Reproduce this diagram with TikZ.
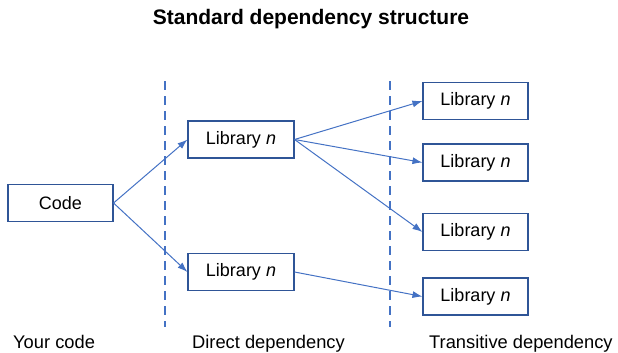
\documentclass[tikz,border=0pt]{standalone}
\usepackage{fontspec}
\setmainfont{Liberation Sans}
\usetikzlibrary{arrows.meta,positioning}
\definecolor{deplink}{RGB}{68,114,196}
\definecolor{depbox}{RGB}{47,85,151}

\begin{document}
\begin{tikzpicture}[x=1pt, y=-1pt,
  libbox/.style={draw=depbox, line width=1.1pt, rectangle, minimum width=106pt, minimum height=37pt,
    inner sep=0pt, font=\fontsize{18}{21}\selectfont},
  dep/.style={-{Latex[length=10pt,width=7pt]}, deplink, line width=1pt},
  tier/.style={deplink, line width=1.8pt, dash pattern=on 9pt off 6pt},
  tiercap/.style={font=\fontsize{18.3}{21}\selectfont, anchor=base west, inner sep=0pt}]
\useasboundingbox (0,0) rectangle (618,353);
%% ---- title ----
\node[font=\fontsize{21}{25}\selectfont\bfseries, anchor=base] (title) at (311,25) {Standard dependency structure};
%% ---- tier separators ----
\draw[tier] (165,81) -- (165,327);
\draw[tier] (390,81) -- (390,327);
%% ---- boxes ----
\node[libbox, minimum width=105pt] (code) at (60.5,203) {Code};
\node[libbox] (dirA) at (241,139.5) {Library \textit{n}};
\node[libbox] (dirB) at (241,272) {Library \textit{n}};
\node[libbox, minimum width=105pt] (trA) at (475.5,101) {Library \textit{n}};
\node[libbox, minimum width=105pt] (trB) at (475.5,162.5) {Library \textit{n}};
\node[libbox, minimum width=105pt] (trC) at (475.5,232) {Library \textit{n}};
\node[libbox, minimum width=105pt] (trD) at (475.5,296.5) {Library \textit{n}};
%% ---- links ----
\draw[dep] (code.east) -- (dirA.west);
\draw[dep] (code.east) -- (dirB.west);
\draw[dep] (dirA.east) -- (trA.west);
\draw[dep] (dirA.east) -- (trB.west);
\draw[dep] (dirA.east) -- (trC.west);
\draw[dep] (dirB.east) -- (trD.west);
%% ---- tier captions ----
\node[tiercap] (yours) at (13,348) {Your code};
\node[tiercap] (direct) at (192,348) {Direct dependency};
\node[tiercap] (trans) at (429,348) {Transitive dependency};
\end{tikzpicture}
\end{document}
